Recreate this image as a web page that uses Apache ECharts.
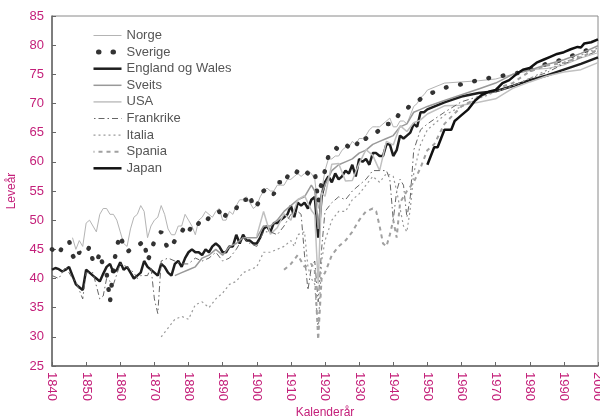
<!DOCTYPE html>
<html>
<head>
<meta charset="utf-8">
<script src="https://cdn.jsdelivr.net/npm/echarts@6/dist/echarts.min.js"></script>
<style>
html,body{margin:0;padding:0;background:#fff;}
#chart{width:600px;height:417px;}
</style>
</head>
<body>
<div id="chart"></div>
<script>
// ---- Data (year, life expectancy) ----
const seriesNames = ["Norge","Sverige","England og Wales","Sveits","USA","Frankrike","Italia","Spania","Japan"];
const xTickYears = [1840,1850,1860,1870,1880,1890,1900,1910,1920,1930,1940,1950,1960,1970,1980,1990,2000];
const yTicks = [25,30,35,40,45,50,55,60,65,70,75,80,85];

const norge = [[1846,47.0],[1847,45.0],[1848,46.5],[1849,45.5],[1850,49.5],[1851,50.0],[1852,49.0],[1853,48.0],[1854,51.0],[1855,52.0],[1856,52.0],[1857,51.0],[1858,51.0],[1859,50.0],
[1860,48.0],[1861,46.0],[1862,45.5],[1863,48.5],[1864,50.5],[1865,51.0],[1866,52.5],[1867,51.5],[1868,47.0],[1869,49.0],
[1870,50.0],[1871,50.5],[1872,52.5],[1873,51.0],[1874,48.5],[1875,47.5],[1876,47.5],[1877,49.0],[1878,49.0],[1879,51.0],
[1880,50.0],[1881,49.0],[1882,47.5],[1883,50.0],[1884,50.5],[1885,51.5],[1886,51.0],[1887,50.5],[1888,51.5],[1889,52.0],
[1890,50.0],[1891,50.0],[1892,51.5],[1893,51.0],[1894,52.5],[1895,53.5],[1896,53.5],[1897,54.0],[1898,53.0],[1899,52.0],
[1900,52.5],[1901,54.0],[1902,55.0],[1903,55.5],[1904,55.0],[1905,55.0],[1906,56.0],[1907,56.0],[1908,56.0],[1909,57.0],
[1910,57.0],[1911,57.5],[1912,58.0],[1913,57.5],[1914,58.0],[1915,58.5],[1916,58.0],[1917,57.0],[1918,52.0],[1919,55.0],
[1920,58.5],[1921,60.5],[1922,60.5],[1923,61.0],[1924,61.0],[1925,62.0],[1926,62.5],[1927,62.5],[1928,63.5],[1929,63.0],
[1930,64.0],[1931,64.0],[1932,64.5],[1933,65.5],[1934,66.0],[1935,66.0],[1936,66.0],[1937,66.5],[1938,67.0],[1939,67.5],
[1940,66.0],[1941,66.0],[1942,67.0],[1943,67.0],[1944,66.5],[1945,68.0],[1946,69.5],[1947,70.0],[1948,71.0],[1949,71.5],
[1950,72.3],[1955,73.5],[1960,73.7],[1965,73.9],[1970,74.2],[1975,75.0],[1980,75.8],[1985,76.0],[1990,76.6],[1995,77.8],[2000,78.7]];

const sverige = [[1840,45.0],[1841,44.5],[1842,44.0],[1843,45.5],[1844,46.0],[1845,46.5],[1846,44.0],[1847,43.0],[1848,44.5],[1849,44.0],
[1850,44.2],[1851,45.5],[1852,43.0],[1853,42.5],[1854,44.5],[1855,42.0],[1856,41.0],[1857,36.0],[1858,42.0],[1859,45.5],
[1860,47.5],[1861,45.5],[1862,44.5],[1863,45.0],[1864,45.5],[1865,45.5],[1866,46.0],[1867,46.5],[1868,43.0],[1869,44.5],
[1870,46.5],[1871,47.5],[1872,48.0],[1873,46.5],[1874,45.0],[1875,45.5],[1876,46.5],[1877,47.5],[1878,48.0],[1879,49.0],
[1880,48.0],[1881,49.0],[1882,48.5],[1883,49.5],[1884,50.0],[1885,49.5],[1886,50.5],[1887,51.0],[1888,51.5],[1889,51.5],
[1890,50.0],[1891,51.0],[1892,51.0],[1893,51.5],[1894,52.0],[1895,53.5],[1896,53.5],[1897,53.5],[1898,54.5],[1899,52.0],
[1900,52.5],[1901,53.5],[1902,55.0],[1903,55.5],[1904,54.5],[1905,54.5],[1906,56.5],[1907,56.5],[1908,56.0],[1909,57.5],
[1910,58.0],[1911,57.5],[1912,58.5],[1913,58.0],[1914,58.5],[1915,58.0],[1916,58.0],[1917,58.5],[1918,53.0],[1919,56.5],
[1920,58.5],[1921,61.0],[1922,61.5],[1923,62.5],[1924,62.0],[1925,62.5],[1926,63.0],[1927,62.5],[1928,63.0],[1929,62.5],
[1930,64.0],[1931,63.5],[1932,64.0],[1933,64.5],[1934,65.0],[1935,65.0],[1936,65.5],[1937,65.5],[1938,66.5],[1939,66.5],
[1940,66.5],[1941,67.5],[1942,68.5],[1943,69.0],[1944,69.0],[1945,69.8],[1946,70.0],[1947,70.2],[1948,70.8],[1949,71.2],
[1950,71.5],[1955,72.7],[1960,73.3],[1965,74.0],[1970,74.6],[1975,75.0],[1980,75.8],[1985,76.8],[1990,77.6],[1995,78.8],[2000,79.7]];

const england = [[1840,41.5],[1841,41.8],[1842,41.6],[1843,41.2],[1844,41.5],[1845,42.0],[1846,40.5],[1847,39.0],[1848,38.5],[1849,38.0],
[1850,41.5],[1851,41.0],[1852,40.5],[1853,40.0],[1854,39.5],[1855,40.8],[1856,42.0],[1857,42.5],[1858,41.0],[1859,41.5],
[1860,42.8],[1861,41.5],[1862,42.0],[1863,41.0],[1864,40.0],[1865,40.5],[1866,41.0],[1867,43.0],[1868,42.0],[1869,41.5],
[1870,41.0],[1871,40.5],[1872,42.5],[1873,42.0],[1874,41.0],[1875,40.5],[1876,42.5],[1877,43.0],[1878,42.0],[1879,43.5],
[1880,44.5],[1881,45.0],[1882,44.5],[1883,44.5],[1884,44.0],[1885,45.0],[1886,44.5],[1887,45.5],[1888,46.0],[1889,45.5],
[1890,44.5],[1891,44.5],[1892,45.5],[1893,45.5],[1894,47.5],[1895,46.0],[1896,47.5],[1897,46.5],[1898,46.5],[1899,46.0],
[1900,46.0],[1901,47.0],[1902,48.5],[1903,49.0],[1904,48.0],[1905,49.5],[1906,49.5],[1907,50.0],[1908,50.5],[1909,51.0],
[1910,52.5],[1911,50.5],[1912,53.0],[1913,52.5],[1914,53.0],[1915,52.0],[1916,53.5],[1917,54.0],[1918,47.0],[1919,54.0],
[1920,56.5],[1921,57.5],[1922,56.5],[1923,58.0],[1924,57.0],[1925,57.5],[1926,58.5],[1927,58.0],[1928,59.5],[1929,57.5],
[1930,60.5],[1931,60.0],[1932,60.5],[1933,59.5],[1934,61.5],[1935,61.5],[1936,61.0],[1937,61.0],[1938,63.0],[1939,63.0],
[1940,61.0],[1941,62.0],[1942,64.5],[1943,64.0],[1944,64.5],[1945,65.0],[1946,66.5],[1947,66.0],[1948,68.5],[1949,68.5],
[1950,69.0],[1955,70.2],[1960,71.2],[1965,71.8],[1970,72.1],[1975,73.0],[1980,74.0],[1985,74.8],[1990,75.8],[1995,76.8],[2000,77.9]];

const sveits = [[1876,40.5],[1878,41.0],[1880,41.5],[1882,42.0],[1884,43.5],[1886,44.0],[1888,45.0],[1890,44.0],[1892,45.5],[1894,46.0],
[1896,47.0],[1898,47.0],[1900,47.0],[1902,49.0],[1904,49.0],[1906,50.0],[1908,51.5],[1910,52.5],[1912,53.5],[1914,54.0],
[1916,56.0],[1917,55.0],[1918,48.5],[1919,54.5],[1920,56.0],[1922,58.5],[1924,59.5],[1926,60.0],[1928,60.5],[1930,61.5],
[1932,62.0],[1934,63.0],[1936,63.5],[1938,64.0],[1940,64.5],[1942,66.0],[1944,66.5],[1946,68.5],[1948,69.0],[1950,69.5],
[1955,70.5],[1960,71.5],[1965,72.5],[1970,73.5],[1975,75.0],[1980,75.7],[1985,76.7],[1990,77.5],[1995,78.6],[2000,79.9]];

const usa = [[1900,47.3],[1902,51.5],[1904,47.6],[1906,48.7],[1908,51.1],[1910,50.0],[1912,53.5],[1914,54.2],[1916,51.7],[1917,50.9],
[1918,39.1],[1919,54.7],[1920,54.1],[1922,59.6],[1924,59.7],[1926,56.7],[1928,56.8],[1930,59.7],[1932,62.1],[1934,61.1],
[1936,58.5],[1938,63.5],[1940,62.9],[1942,66.2],[1944,65.2],[1946,66.7],[1948,67.2],[1950,68.2],[1955,69.6],[1960,69.7],
[1965,70.2],[1970,70.8],[1975,72.6],[1980,73.7],[1985,74.7],[1990,75.4],[1995,75.8],[2000,77.0]];

const frankrike = [[1840,40.5],[1842,40.0],[1844,42.0],[1846,40.0],[1847,39.5],[1849,36.5],[1850,41.0],[1852,41.0],[1854,36.5],[1855,37.0],
[1856,40.0],[1858,39.0],[1860,42.5],[1862,42.0],[1864,41.0],[1865,40.0],[1866,40.5],[1868,40.5],[1869,42.0],[1870,36.5],
[1871,34.0],[1872,43.0],[1874,43.5],[1876,43.0],[1878,42.5],[1880,42.5],[1882,43.5],[1884,43.0],[1886,43.5],[1888,44.5],
[1890,43.0],[1892,43.5],[1894,45.0],[1896,47.0],[1898,46.0],[1900,45.5],[1902,48.0],[1904,48.0],[1906,47.5],[1908,49.0],
[1910,51.0],[1912,51.5],[1913,51.0],[1914,44.0],[1915,38.0],[1916,42.0],[1917,43.0],[1918,36.0],[1919,45.0],[1920,51.5],
[1922,53.0],[1924,54.0],[1926,53.5],[1928,55.0],[1930,56.0],[1932,57.0],[1934,58.5],[1936,58.5],[1938,58.5],[1939,57.0],
[1940,50.0],[1941,55.0],[1942,57.0],[1943,56.0],[1944,50.5],[1945,54.0],[1946,62.0],[1948,65.5],[1950,66.5],[1955,68.5],
[1960,70.3],[1965,71.2],[1970,72.0],[1975,73.0],[1980,74.3],[1985,75.3],[1990,76.8],[1995,77.9],[2000,79.0]];

const italia = [[1872,30.0],[1874,31.5],[1876,33.0],[1878,33.5],[1880,33.0],[1882,35.5],[1884,36.0],[1886,35.0],[1888,36.5],[1890,37.5],
[1892,39.0],[1894,39.5],[1896,41.0],[1898,41.5],[1900,42.0],[1902,44.5],[1904,44.5],[1906,45.0],[1908,45.5],[1910,46.5],
[1911,45.5],[1912,47.5],[1914,48.0],[1915,42.0],[1916,40.0],[1917,39.0],[1918,31.0],[1919,43.0],[1920,46.5],[1922,50.0],
[1924,51.5],[1926,51.5],[1928,53.5],[1930,54.5],[1932,56.0],[1934,57.5],[1936,56.5],[1938,58.0],[1940,57.5],[1941,55.0],
[1942,52.0],[1943,49.0],[1944,48.0],[1945,52.0],[1946,58.0],[1948,63.0],[1950,65.5],[1955,68.0],[1960,69.5],[1965,70.8],
[1970,72.0],[1975,73.0],[1980,74.3],[1985,75.7],[1990,77.0],[1995,78.3],[2000,79.5]];

const spania = [[1908,41.5],[1910,42.5],[1912,44.0],[1914,42.0],[1916,42.5],[1917,41.5],[1918,29.5],[1919,40.0],[1920,41.0],[1922,44.0],
[1924,45.5],[1926,46.5],[1928,48.0],[1930,50.0],[1932,51.5],[1934,52.0],[1935,51.5],[1936,49.0],[1937,46.0],[1938,45.5],
[1939,47.5],[1940,50.0],[1941,47.0],[1942,53.0],[1944,55.0],[1946,56.5],[1948,59.0],[1950,62.0],[1952,63.0],[1955,66.5],
[1960,69.5],[1965,71.0],[1970,72.5],[1975,73.5],[1980,75.5],[1985,76.5],[1990,77.0],[1995,78.0],[2000,79.2]];

const japan = [[1950,59.5],[1951,61.0],[1952,62.5],[1953,62.5],[1954,64.0],[1955,65.5],[1956,65.5],[1957,65.5],[1958,67.0],[1959,67.5],
[1960,68.0],[1962,69.0],[1964,70.5],[1966,71.5],[1968,72.0],[1970,72.3],[1972,73.5],[1974,74.0],[1976,75.0],[1978,75.8],
[1980,76.1],[1982,77.0],[1984,77.5],[1986,78.0],[1988,78.5],[1990,78.8],[1992,79.3],[1994,79.7],[1995,79.6],[1996,80.3],
[1998,80.5],[2000,81.0]];

const allData = [norge, sverige, england, sveits, usa, frankrike, italia, spania, japan];

// ---- Styles ----
const styles = [
  {color:'#b4b4b4', width:1},
  {color:'#333333', width:4.5, type:[0.5,14], cap:'round'},
  {color:'#1e1e1e', width:2.5},
  {color:'#999999', width:1.5},
  {color:'#c0c0c0', width:1.5},
  {color:'#666666', width:1, type:[6,3,1.5,3]},
  {color:'#9a9a9a', width:1.2, type:[2,3]},
  {color:'#a0a0a0', width:2, type:[4,4]},
  {color:'#111111', width:2.5}
];
const legendStyles = [
  {width:1},
  {width:5, type:[0.5,14], cap:'round', dashOffset:-5},
  {width:2.5},
  {width:1.5},
  {width:1.5},
  {width:1, type:[6,3,1.5,3]},
  {width:1.2, type:[2,3]},
  {width:2, type:[4,4]},
  {width:2.5}
];

const magenta = '#c4207a';
const font = 'Liberation Sans, Arial, sans-serif';

const chart = echarts.init(document.getElementById('chart'), null, {renderer:'canvas'});
chart.setOption({
  animation:false,
  backgroundColor:'#ffffff',
  grid:{left:52, right:2, top:16, bottom:51, show:true, borderColor:'#8a8a8a', borderWidth:1,
        backgroundColor:'transparent', containLabel:false, outerBoundsMode:'none'},
  legend:{
    orient:'vertical', left:86, top:24, itemWidth:28, itemHeight:10, itemGap:3.6,
    data:seriesNames.map((n,i)=>({name:n, lineStyle:Object.assign({color:styles[i].color}, legendStyles[i])})),
    itemStyle:{opacity:0},
    textStyle:{color:'#555', fontSize:13, fontFamily:font},
    selectedMode:false
  },
  xAxis:{
    type:'value', min:1840, max:2000, interval:10,
    name:'Kalenderår', nameLocation:'middle', nameGap:41, nameMoveOverlap:false,
    nameTextStyle:{color:magenta, fontSize:12, fontFamily:font},
    axisLine:{show:true, lineStyle:{color:'#666', width:1.5}},
    axisTick:{show:true, inside:true, length:4, lineStyle:{color:'#666'}},
    axisLabel:{color:magenta, fontSize:13, fontFamily:font, rotate:-90, margin:6,
      formatter:v => xTickYears.includes(v) ? String(v) : ''},
    splitLine:{show:false}
  },
  yAxis:{
    type:'value', min:25, max:85, interval:5,
    name:'Leveår', nameLocation:'middle', nameGap:34, nameMoveOverlap:false,
    nameTextStyle:{color:magenta, fontSize:12, fontFamily:font},
    axisLine:{show:true, lineStyle:{color:'#666', width:1.5}},
    axisTick:{show:true, inside:true, length:4, lineStyle:{color:'#666'}},
    axisLabel:{color:magenta, fontSize:13, fontFamily:font, margin:8,
      formatter:v => yTicks.includes(v) ? String(v) : ''},
    splitLine:{show:false}
  },
  series: seriesNames.map((n,i)=>({
    name:n, type:'line', data:allData[i], symbol:'none', showSymbol:false,
    lineStyle:Object.assign({}, styles[i]), itemStyle:{color:styles[i].color},
    emphasis:{disabled:true}, silent:true, z:2+i
  }))
});
</script>
</body>
</html>
